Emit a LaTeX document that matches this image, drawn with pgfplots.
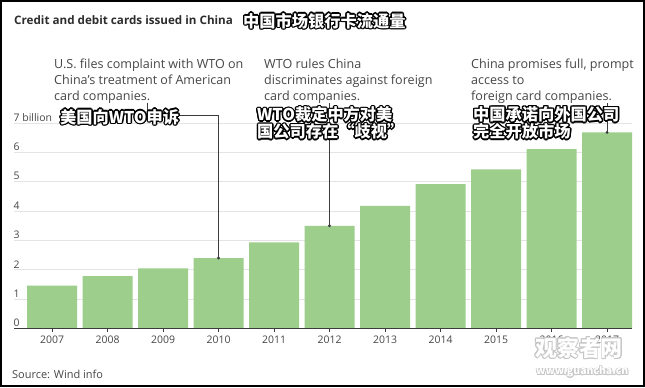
\documentclass[border=0pt]{standalone}
\usepackage{pgfplots}
\pgfplotsset{compat=1.18}
\usepackage{fontspec}
\setmainfont{Open Sans}
\newfontfamily\cjk{Noto Sans CJK SC}
\definecolor{barg}{RGB}{158,206,140}
\definecolor{txt}{RGB}{70,70,70}
\definecolor{ttl}{RGB}{45,45,45}
\definecolor{gridc}{RGB}{228,228,228}
\definecolor{axc}{RGB}{60,60,60}
\newcommand{\cjkf}{\cjk\bfseries\fontsize{16.3}{18}\selectfont}
\newcommand{\cjkout}[3]{%
 \foreach \a in {0,30,...,330}{\node[anchor=west,inner sep=0pt,text=black,font=\cjkf,shift={(\a:1.4bp)}] at (#1,#2) {#3};}
 \node[anchor=west,inner sep=0pt,text=white,font=\cjkf] at (#1,#2) {#3};}
\newcommand{\ann}[3]{\node[anchor=base west,inner sep=0pt,text=txt,font=\fontsize{12.6}{14}\selectfont] at (#1,#2) {#3};}
\begin{document}
\begin{tikzpicture}[x=1bp,y=1bp]
\fill[white] (0,0) rectangle (645,387);
\useasboundingbox (0,0) rectangle (645,387);
\begin{axis}[at={(14bp,58.5bp)}, anchor=south west, scale only axis, width=618bp, height=205.5bp,
 xmin=-0.685, xmax=10.45, ymin=0, ymax=7, ybar, bar width=50bp,
 axis line style={draw=none},
 xtick={0,1,2,3,4,5,6,7,8,9,10},
 xticklabels={2007,2008,2009,2010,2011,2012,2013,2014,2015,2016,2017},
 tick align=outside, xtick pos=bottom, major tick length=3.5bp,
 xtick style={draw=axc, line width=0.7bp},
 ytick={0,1,2,3,4,5,6,7}, yticklabels={0,1,2,3,4,5,6,7 billion},
 ytick pos=left, ytick style={draw=none},
 ymajorgrids, grid style={draw=gridc, line width=0.7bp},
 yticklabel style={anchor=south west, inner sep=0pt, xshift=3bp, yshift=1.5bp, font=\fontsize{10.5}{12}\selectfont, text=txt},
 xticklabel style={font=\fontsize{10.5}{12}\selectfont, text=txt},
 clip=false,
]
\addplot[fill=barg, draw=none] coordinates {(0,1.46) (1,1.78) (2,2.05) (3,2.40) (4,2.93) (5,3.50) (6,4.18) (7,4.92) (8,5.42) (9,6.11) (10,6.68)};
\draw[axc, line width=0.9bp] (rel axis cs:0,0) -- (rel axis cs:1,0);
\draw[axc, line width=0.7bp] (axis cs:1.712,7.68) -- (axis cs:1.712,7.273) -- (axis cs:3,7.273) -- (axis cs:3,2.40);
\fill[axc] (axis cs:3,2.40) circle (1.6bp);
\draw[axc, line width=0.7bp] (axis cs:5,7.68) -- (axis cs:5,3.50);
\fill[axc] (axis cs:5,3.50) circle (1.6bp);
\draw[axc, line width=0.7bp] (axis cs:10,7.68) -- (axis cs:10,6.68);
\fill[axc] (axis cs:10,6.68) circle (1.6bp);
\end{axis}
\node[anchor=base west,inner sep=0pt,font=\bfseries\fontsize{11.7}{14}\selectfont,text=ttl] at (14,363) {Credit and debit cards issued in China};
\cjkout{243}{366}{中国市场银行卡流通量}
\ann{54}{319}{U.S. files complaint with WTO on}
\ann{54}{303}{China’s treatment of American}
\ann{54}{287}{card companies.}
\ann{264}{319}{WTO rules China}
\ann{264}{303}{discriminates against foreign}
\ann{264}{287}{card companies.}
\ann{471}{319}{China promises full, prompt}
\ann{471}{303}{access to}
\ann{471}{287}{foreign card companies.}
\cjkout{60}{270}{美国向WTO申诉}
\cjkout{257}{272.5}{WTO裁定中方对美}
\cjkout{257}{255.5}{国公司存在“歧视”}
\cjkout{473}{272.5}{中国承诺向外国公司}
\cjkout{473}{255.5}{完全开放市场}
\node[anchor=base west,inner sep=0pt,text=txt,font=\fontsize{11}{13}\selectfont] at (12,9) {Source: Wind info};
\foreach \a in {0,30,...,330}{\node[anchor=west,inner sep=0pt,text=gray!45,font=\cjk\bfseries\fontsize{22}{24}\selectfont,shift={(\a:0.9bp)}] at (535,39) {观察者网};}
\node[anchor=west,inner sep=0pt,text=white,font=\cjk\bfseries\fontsize{22}{24}\selectfont] at (535,39) {观察者网};
\foreach \a in {0,30,...,330}{\node[anchor=west,inner sep=0pt,text=gray!45,font=\cjk\bfseries\fontsize{10.5}{12}\selectfont,shift={(\a:0.7bp)}] at (536,15) {www.guancha.cn};}
\node[anchor=west,inner sep=0pt,text=white,font=\cjk\bfseries\fontsize{10.5}{12}\selectfont] at (536,15) {www.guancha.cn};
\draw[black, line width=2bp] (1,1) rectangle (644,386);
\end{tikzpicture}
\end{document}
